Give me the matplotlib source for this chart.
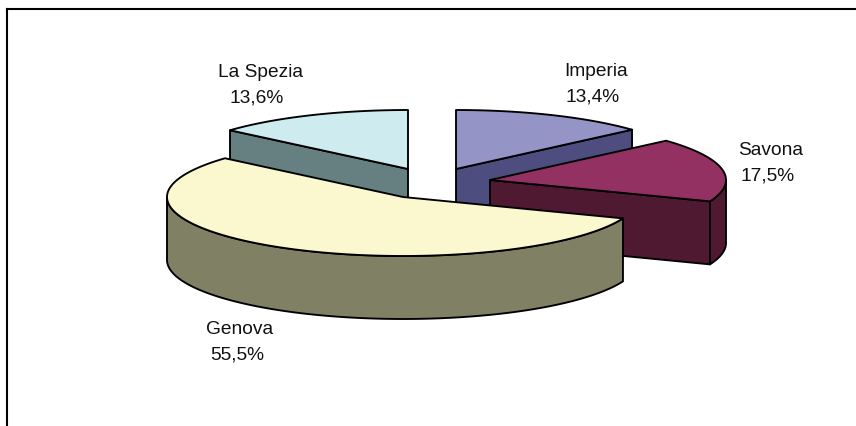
import numpy as np
import matplotlib
matplotlib.use("Agg")
import matplotlib.pyplot as plt
from matplotlib.patches import Polygon

plt.rcParams['font.family'] = ['Liberation Sans', 'DejaVu Sans']

provinces = ['Imperia', 'Savona', 'Genova', 'La Spezia']
shares = [13.4, 17.5, 55.5, 13.6]

top_colors = ['#9494C6', '#933163', '#FBF7CE', '#CEECF0']
wall_colors = ['#4D4D7F', '#4F1932', '#808064', '#667F80']
centres = {'Imperia': (456, 170), 'Savona': (490, 181), 'Genova': (403, 198), 'La Spezia': (408, 170)}
label_at = {'Imperia': (595, 76), 'Savona': (770, 155), 'Genova': (239, 334), 'La Spezia': (259, 77)}
draw_order = ['Imperia', 'La Spezia', 'Savona', 'Genova']

RX, RY, DEPTH = 236, 59, 63
EDGE = 1.35

fig = plt.figure(figsize=(8.56, 4.27), dpi=100)
ax = fig.add_axes([7.5 / 856, 0, 1 - 7.5 / 856, 1 - 9.5 / 427])
ax.set_xlim(7.5, 856)
ax.set_ylim(427, 9.5)
ax.set_xticks([])
ax.set_yticks([])
for side, spine in ax.spines.items():
    spine.set_visible(side in ('left', 'top'))
    spine.set_linewidth(1.5)


def rim(cx, cy, a0, a1, n=120):
    t = np.radians(np.linspace(a0, a1, n))
    return np.column_stack([cx + RX * np.sin(t), cy - RY * np.cos(t)])


def face(points, colour, z):
    ax.add_patch(Polygon(points, closed=True, facecolor=colour, edgecolor='black',
                         linewidth=EDGE, joinstyle='round', zorder=z))


ends = np.cumsum(shares) / np.sum(shares) * 360
starts = np.concatenate([[0], ends[:-1]])

for z, name in enumerate(draw_order):
    i = provinces.index(name)
    a0, a1 = starts[i], ends[i]
    cx, cy = centres[name]
    base = 10 * z
    drop = np.array([0, DEPTH])
    # radial walls facing the viewer
    for ang, sign in ((a0, -1), (a1, 1)):
        if sign * np.sin(np.radians(ang)) > 1e-6:
            edge = rim(cx, cy, ang, ang, 1)[0]
            apex = np.array([cx, cy])
            face([apex, edge, edge + drop, apex + drop], wall_colors[i], base + 1)
    # outer wall on the near half of the rim
    lo, hi = max(a0, 90), min(a1, 270)
    if lo < hi:
        arc = rim(cx, cy, lo, hi)
        face(np.vstack([arc, arc[::-1] + drop]), wall_colors[i], base + 2)
    # top
    face(np.vstack([[cx, cy], rim(cx, cy, a0, a1)]), top_colors[i], base + 3)

for name, value in zip(provinces, shares):
    x, y = label_at[name]
    ax.text(x + 1, y, name, ha='center', va='baseline', fontsize=13.8, color='#111111', zorder=100)
    ax.text(x - 2, y + 25.5, f'{value:.1f}%'.replace('.', ','), ha='center', va='baseline',
            fontsize=13.8, color='#111111', zorder=100)

fig.savefig('out.png', dpi=100, facecolor='white')
